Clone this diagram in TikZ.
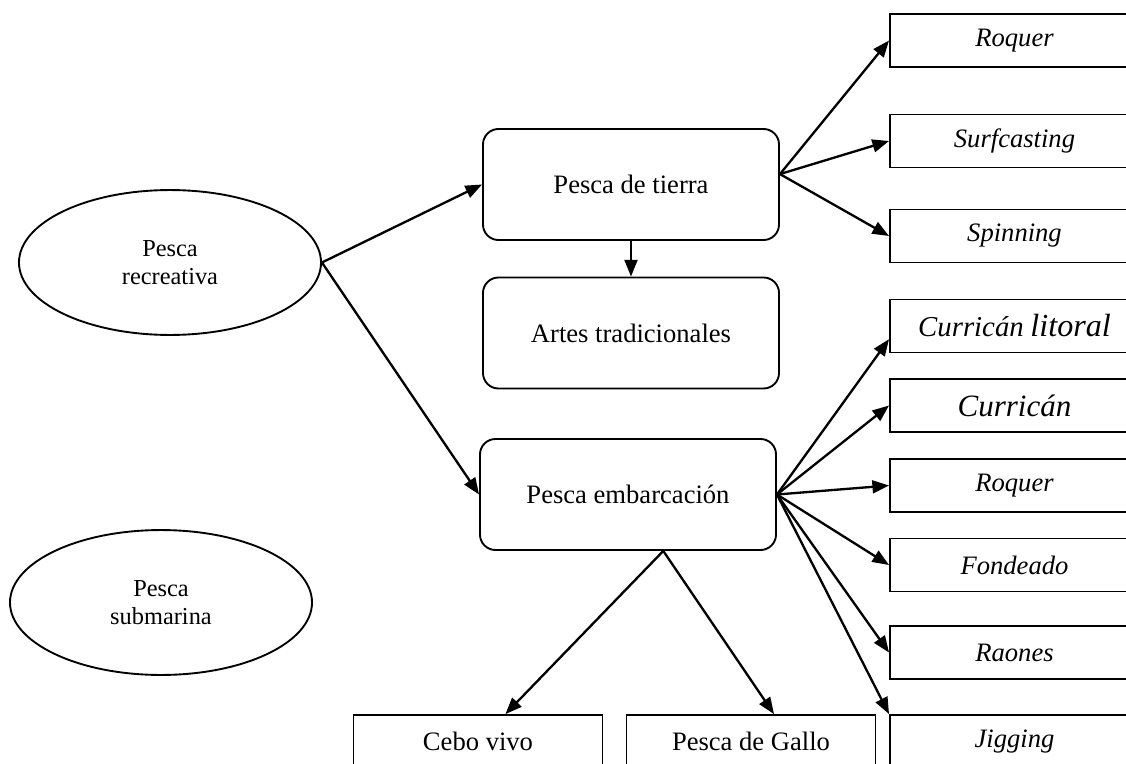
\documentclass[tikz,border=0pt]{standalone}
\usepackage{fontspec}
\setmainfont{Liberation Serif}
\usetikzlibrary{arrows.meta,shapes.geometric}

\begin{document}
\begin{tikzpicture}[x=0.4513pt,y=-0.4513pt,
   oval/.style={draw,ellipse,line width=0.85pt,minimum width=136.3pt,minimum height=65.4pt,
      align=center,font=\fontsize{11}{12.6}\selectfont},
   tipo/.style={draw,rounded corners=7pt,line width=0.85pt,minimum width=133.6pt,
      minimum height=50.1pt,font=\fontsize{12}{14}\selectfont},
   arte/.style={draw,line width=0.85pt,minimum width=112.4pt,minimum height=23.9pt,
      inner sep=0pt,font=\fontsize{12}{14}\selectfont\itshape},
   suelo/.style={arte,font=\fontsize{12}{14}\selectfont},
   flecha/.style={line width=1.05pt,-{Triangle[length=7.5pt,width=5.8pt]}}]

   \clip (0,0) rectangle (1126,764);

   \node[oval] (recreativa) at (170,262.5) {Pesca\\recreativa};
   \node[oval] (submarina) at (161,602.5) {Pesca\\submarina};

   \node[tipo] (tierra) at (631,184.5) {Pesca de tierra};
   \node[tipo] (artes) at (631,333) {Artes tradicionales};
   \node[tipo] (embarcacion) at (628,494.5) {Pesca embarcación};

   \node[arte] (roquerT) at (1014.5,40.5) {Roquer};
   \node[arte] (surf) at (1014.5,141) {Surfcasting};
   \node[arte] (spin) at (1014.5,236) {Spinning};
   \node[arte] (curlit) at (1014.5,326) {{\fontsize{13}{15}\selectfont Curricán}
      {\fontsize{14.5}{16}\selectfont litoral}};
   \node[arte] (curr) at (1014.5,405.5) {\fontsize{14}{16}\selectfont Curricán};
   \node[arte] (roquerB) at (1014.5,485.5) {Roquer};
   \node[arte] (fond) at (1014.5,565) {Fondeado};
   \node[arte] (raones) at (1014.5,652.5) {Raones};
   \node[arte] (jig) at (1014.5,741.5) {Jigging};

   \node[suelo] (cebo) at (478,741.5) {Cebo vivo};
   \node[suelo] (gallo) at (751,741.5) {Pesca de Gallo};

   \draw[flecha] (recreativa.east) -- (tierra.west);
   \draw[flecha] (recreativa.east) -- (embarcacion.west);
   \draw[flecha] (tierra.south) -- (artes.north);

   \foreach \d in {roquerT,surf,spin}
      \draw[flecha] (tierra.4) -- (\d.west);

   \draw[flecha] (embarcacion.east) -- (curlit.186);
   \foreach \d in {curr,roquerB,fond,raones}
      \draw[flecha] (embarcacion.east) -- (\d.west);
   \draw[flecha] (embarcacion.east) -- (jig.north west);

   \draw[flecha] (embarcacion.302) -- (cebo.45);
   \draw[flecha] (embarcacion.302) -- (gallo.50);

\end{tikzpicture}
\end{document}
